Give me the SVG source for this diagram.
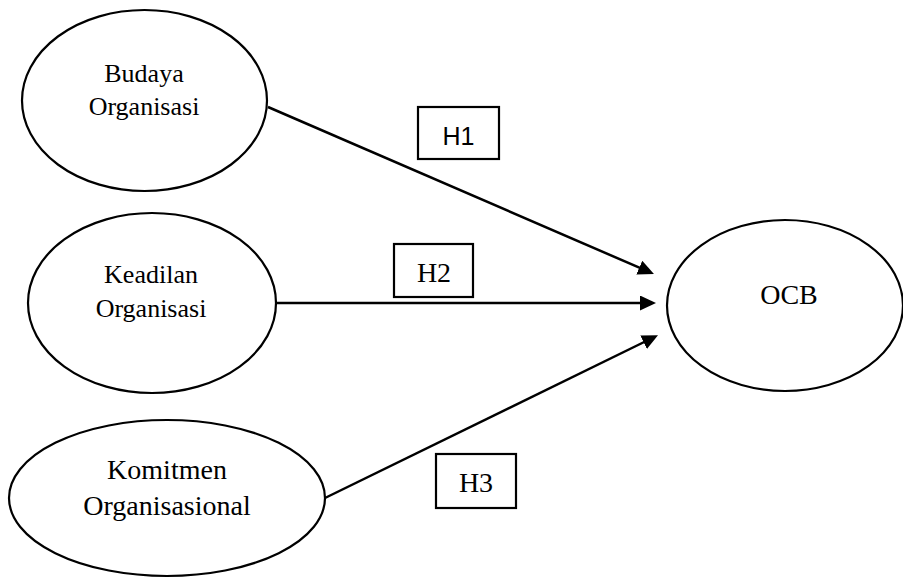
<svg xmlns="http://www.w3.org/2000/svg" width="903" height="578" viewBox="0 0 903 578">
<style>
.node{fill:#fff;stroke:#000;stroke-width:2.2}
.lab{fill:none;stroke:#000;stroke-width:2.2}
.conn{stroke:#000;stroke-width:2.5;fill:none}
.t{font-family:"Liberation Serif","Times New Roman",serif;fill:#000;text-anchor:middle}
.s{font-family:"Liberation Sans",Arial,sans-serif;fill:#000;text-anchor:middle}
</style>
<defs>
<marker id="arr" markerUnits="userSpaceOnUse" markerWidth="16" markerHeight="15" refX="12" refY="7.5" orient="auto">
<path d="M0,0 L16,7.5 L0,15 z" fill="#000"/>
</marker>
</defs>
<rect width="903" height="578" fill="#fff"/>
<g id="connectors">
<line class="conn" x1="268" y1="107" x2="650.3" y2="272.4" marker-end="url(#arr)"/>
<line class="conn" x1="276" y1="303" x2="652" y2="303" marker-end="url(#arr)"/>
<line class="conn" x1="325" y1="498" x2="654.4" y2="337" marker-end="url(#arr)"/>
</g>
<g id="budaya">
<ellipse class="node" cx="144.5" cy="100.5" rx="122.5" ry="90.5"/>
<text class="t" x="144" y="82" font-size="26">Budaya</text>
<text class="t" x="144" y="115" font-size="26">Organisasi</text>
</g>
<g id="keadilan">
<ellipse class="node" cx="152" cy="303" rx="124" ry="90"/>
<text class="t" x="151" y="283" font-size="26">Keadilan</text>
<text class="t" x="151" y="317" font-size="26">Organisasi</text>
</g>
<g id="komitmen">
<ellipse class="node" cx="167" cy="498" rx="158" ry="78"/>
<text class="t" x="167" y="479" font-size="28">Komitmen</text>
<text class="t" x="167" y="515" font-size="28">Organisasional</text>
</g>
<g id="ocb">
<ellipse class="node" cx="785" cy="305.5" rx="118" ry="85.5"/>
<text class="t" x="789" y="304" font-size="28">OCB</text>
</g>
<g id="h1">
<rect class="lab" x="418" y="107" width="81" height="52"/>
<text class="s" x="458.5" y="145" font-size="25">H1</text>
</g>
<g id="h2">
<rect class="lab" x="394" y="244" width="79" height="53"/>
<text class="t" x="434" y="282" font-size="28">H2</text>
</g>
<g id="h3">
<rect class="lab" x="436" y="454" width="80" height="54"/>
<text class="t" x="476" y="492" font-size="28">H3</text>
</g>
</svg>
